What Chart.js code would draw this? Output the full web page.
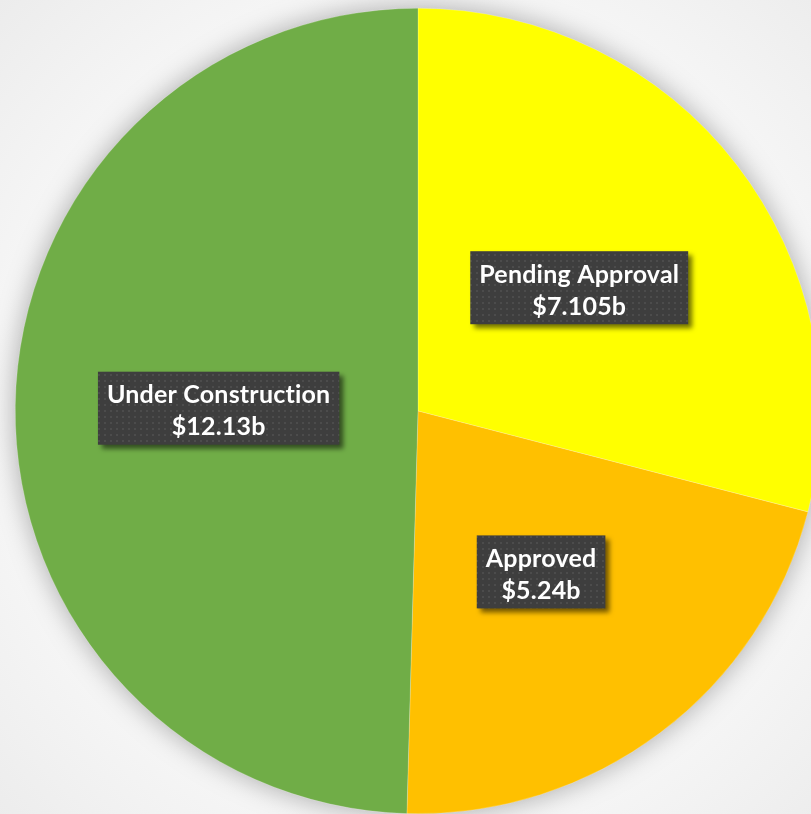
<!DOCTYPE html>
<html>
<head>
<meta charset="utf-8">
<script src="https://cdn.jsdelivr.net/npm/chart.js@4/dist/chart.umd.min.js"></script>
<style>
  html, body { margin: 0; padding: 0; overflow: hidden; }
  body {
    width: 811px; height: 814px;
    background: radial-gradient(circle at 418px 411px, #ffffff 0%, #ffffff 52%, #f6f6f6 70%, #ececec 100%);
  }
  #wrap { position: absolute; left: 0; top: 0; width: 821px; height: 814px; }
</style>
</head>
<body>
<div id="wrap"><canvas id="chart"></canvas></div>
<script>
// data
const categories = ['Pending Approval', 'Approved', 'Under Construction'];
const values = [7.105, 5.24, 12.13];
const valueLabels = ['$7.105b', '$5.24b', '$12.13b'];
const colors = ['#FFFF00', '#FFC000', '#70AD47'];

// dotted dark fill for the label boxes
function dotPattern(ctx) {
  const c = document.createElement('canvas');
  c.width = 6; c.height = 6;
  const p = c.getContext('2d');
  p.fillStyle = '#3e3e3e';
  p.fillRect(0, 0, 6, 6);
  p.fillStyle = '#4c4c4c';
  p.fillRect(2, 2, 2, 2);
  return ctx.createPattern(c, 'repeat');
}

// soft shadow under the pie
const pieShadow = {
  id: 'pieShadow',
  beforeDatasetsDraw(chart) {
    const arc = chart.getDatasetMeta(0).data[0];
    if (!arc) return;
    const {x, y, outerRadius} = arc.getProps(['x', 'y', 'outerRadius'], true);
    const ctx = chart.ctx;
    ctx.save();
    ctx.shadowColor = 'rgba(0,0,0,0.35)';
    ctx.shadowBlur = 28;
    ctx.fillStyle = '#fff';
    ctx.beginPath();
    ctx.arc(x, y, outerRadius - 1, 0, Math.PI * 2);
    ctx.fill();
    ctx.restore();
  }
};

// boxed labels halfway out along each slice
const boxLabels = {
  id: 'boxLabels',
  afterDatasetsDraw(chart) {
    const ctx = chart.ctx;
    const pattern = dotPattern(ctx);
    ctx.save();
    ctx.font = 'bold 25px Lato';
    ctx.letterSpacing = '0.2px';
    ctx.textAlign = 'center';
    ctx.textBaseline = 'middle';
    chart.getDatasetMeta(0).data.forEach((arc, i) => {
      const p = arc.getProps(['x', 'y', 'startAngle', 'endAngle', 'outerRadius'], true);
      const mid = (p.startAngle + p.endAngle) / 2;
      const cx = p.x + Math.cos(mid) * p.outerRadius * 0.5 + 2;
      const cy = p.y + Math.sin(mid) * p.outerRadius * 0.5;
      const lines = [categories[i], valueLabels[i]];
      const w = Math.max(...lines.map(t => ctx.measureText(t).width)) + 18;
      const h = 73;
      ctx.save();
      ctx.shadowColor = 'rgba(0,0,0,0.55)';
      ctx.shadowBlur = 5;
      ctx.shadowOffsetX = 4;
      ctx.shadowOffsetY = 4;
      ctx.fillStyle = pattern;
      ctx.fillRect(cx - w / 2, cy - h / 2, w, h);
      ctx.restore();
      ctx.fillStyle = '#ffffff';
      ctx.fillText(lines[0], cx, cy - 13);
      ctx.fillText(lines[1], cx, cy + 19);
    });
    ctx.restore();
  }
};

const chart = new Chart(document.getElementById('chart'), {
  type: 'pie',
  data: {
    labels: categories,
    datasets: [{
      data: values,
      backgroundColor: colors,
      borderColor: 'rgba(255,255,255,0.4)',
      borderWidth: 0.5
    }]
  },
  options: {
    responsive: true,
    maintainAspectRatio: false,
    animation: false,
    layout: { padding: { left: 15, top: 8, right: 0, bottom: 0 } },
    plugins: {
      legend: { display: false },
      tooltip: { enabled: false }
    }
  },
  plugins: [pieShadow, boxLabels]
});
</script>
</body>
</html>
